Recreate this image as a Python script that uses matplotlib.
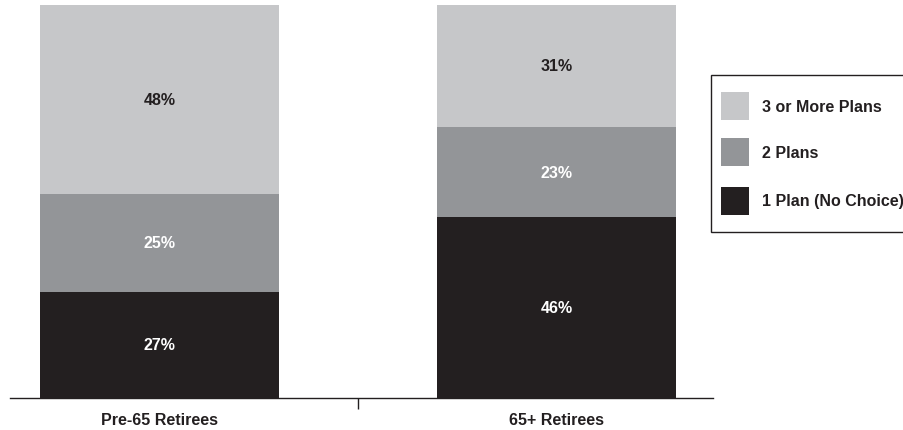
import numpy as np
import matplotlib.pyplot as plt
from matplotlib.patches import Rectangle

plt.rcParams['font.family'] = ['Liberation Sans', 'DejaVu Sans']
plt.rcParams['font.weight'] = 'bold'

# --- data ---
categories = ["Pre-65 Retirees", "65+ Retirees"]
series_names = ["1 Plan (No Choice)", "2 Plans", "3 or More Plans"]
one_plan = [27, 46]
two_plans = [25, 23]
three_plus = [48, 31]

colors = ["#231f20", "#939598", "#c6c7c9"]
text_colors = ["white", "white", "#231f20"]
FS = 11.5

fig = plt.figure(figsize=(9.04, 4.31), dpi=100)
W, H = 904, 431
ax = fig.add_axes([10 / W, 1 - 399 / H, (713 - 10) / W, (399 - 6) / H])

x = np.arange(len(categories))
bottom = np.zeros(len(categories))
for vals, name, c, tc in zip([one_plan, two_plans, three_plus], series_names, colors, text_colors):
    vals = np.array(vals, dtype=float)
    ax.bar(x, vals, width=0.602, bottom=bottom, color=c, edgecolor='none', label=name)
    for xi, b, v in zip(x, bottom, vals):
        ax.text(xi, b + v / 2, f"{int(v)}%", ha='center', va='center',
                color=tc, fontsize=FS, fontweight='bold')
    bottom += vals

ax.set_xlim(-0.3766, 1.394)
ax.set_ylim(0, 100)

for s in ['top', 'right', 'left']:
    ax.spines[s].set_visible(False)
ax.spines['bottom'].set_color('#231f20')
ax.spines['bottom'].set_linewidth(1.0)
ax.set_yticks([])
ax.set_xticks(x)
ax.set_xticklabels(categories, fontsize=FS, fontweight='bold', color='#231f20')
ax.tick_params(axis='x', which='major', length=0, pad=10)
ax.set_xticks([0.5], minor=True)
ax.tick_params(axis='x', which='minor', length=8, width=1, color='#231f20')

# legend box, drawn by hand in figure pixels
def px(xp, yp):
    return (xp / W, 1 - yp / H)

fig.add_artist(Rectangle(px(711, 233), (904 - 711) / W, (233 - 76) / H,
                         transform=fig.transFigure, facecolor='white',
                         edgecolor='#231f20', linewidth=1.0))
rows = [(2, 93), (1, 139), (0, 188)]
for idx, top in rows:
    fig.add_artist(Rectangle(px(721, top + 28), 28 / W, 28 / H, transform=fig.transFigure,
                             facecolor=colors[idx], edgecolor='none'))
    fig.text(*px(762, top + 14), series_names[idx], ha='left', va='center',
             fontsize=FS, fontweight='bold', color='#231f20')

fig.savefig("out.png", dpi=100)
